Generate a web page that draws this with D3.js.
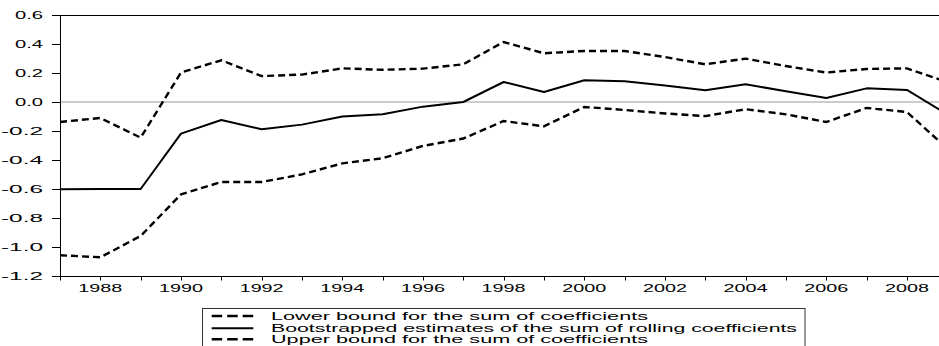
<!DOCTYPE html>
<html><head><meta charset="utf-8">
<script src="https://cdn.jsdelivr.net/npm/d3@7"></script>
<style>body{margin:0;background:#fff}svg{display:block}text{font-family:"Liberation Sans",Arial,sans-serif;fill:#000}</style>
</head><body><svg id="c" width="939" height="346"></svg>
<script>
const years = d3.range(1987, 2010);
const estimate = [-0.602,-0.600,-0.600,-0.218,-0.124,-0.188,-0.156,-0.100,-0.085,-0.032,0.000,0.138,0.069,0.150,0.143,0.113,0.081,0.122,0.074,0.028,0.094,0.083,-0.085];
const upper = [-0.138,-0.110,-0.246,0.203,0.288,0.179,0.189,0.232,0.222,0.230,0.260,0.414,0.336,0.352,0.352,0.310,0.260,0.299,0.248,0.203,0.228,0.232,0.137];
const lower = [-1.057,-1.071,-0.924,-0.637,-0.552,-0.552,-0.499,-0.423,-0.388,-0.303,-0.252,-0.131,-0.168,-0.034,-0.055,-0.079,-0.097,-0.050,-0.085,-0.138,-0.041,-0.069,-0.321];
const yTicks = [0.6,0.4,0.2,0.0,-0.2,-0.4,-0.6,-0.8,-1.0,-1.2];
const xLabels = [1988,1990,1992,1994,1996,1998,2000,2002,2004,2006,2008];
const legendLabels = ["Lower bound for the sum of coefficients","Bootstrapped estimates of the sum of rolling coefficients","Upper bound for the sum of coefficients"];

const svg = d3.select("#c");
const L = 60, R = 939, T = 15, B = 276;
const x = d3.scaleLinear().domain([1987, 2009]).range([L, L + 22*40.33]);
const y = d3.scaleLinear().domain([-1.2, 0.6]).range([B, T]);

svg.append("defs").append("clipPath").attr("id","pc").append("rect")
  .attr("x", L).attr("y", 0).attr("width", R - L).attr("height", 346);

// zero line
svg.append("line").attr("x1", L).attr("x2", R).attr("y1", y(0)).attr("y2", y(0))
  .attr("stroke", "#999").attr("stroke-width", 1);

// frame lines
svg.append("line").attr("x1", L).attr("x2", R).attr("y1", T+0.5).attr("y2", T+0.5).attr("stroke","#000").attr("stroke-width",1);
svg.append("line").attr("x1", L).attr("x2", R).attr("y1", B+0.5).attr("y2", B+0.5).attr("stroke","#000").attr("stroke-width",1);
svg.append("line").attr("x1", L+0.5).attr("x2", L+0.5).attr("y1", T).attr("y2", B+1).attr("stroke","#000").attr("stroke-width",1);

// y ticks & labels
yTicks.forEach(v => {
  const yy = Math.round(y(v)) + 0.5;
  svg.append("line").attr("x1", 52).attr("x2", L).attr("y1", yy).attr("y2", yy).attr("stroke","#000");
  svg.append("text").attr("x", 43).attr("y", y(v) + 4).attr("text-anchor","end")
    .attr("font-size", 11.5)
    .attr("textLength", v < 0 ? 42 : 28).attr("lengthAdjust","spacingAndGlyphs")
    .text(v.toFixed(1));
});

// x ticks & labels
years.forEach(yr => {
  const xx = Math.round(x(yr)) + 0.5;
  if (xx > R) return;
  svg.append("line").attr("x1", xx).attr("x2", xx).attr("y1", B).attr("y2", B + 4.5).attr("stroke","#000");
});
xLabels.forEach(yr => {
  svg.append("text").attr("x", x(yr)).attr("y", 292).attr("text-anchor","middle")
    .attr("font-size", 11.5).attr("textLength", 44).attr("lengthAdjust","spacingAndGlyphs")
    .text(yr);
});

const line = d3.line().x((d,i) => x(years[i])).y(d => y(d));
const g = svg.append("g").attr("clip-path","url(#pc)");
g.append("path").datum(lower).attr("d", line).attr("fill","none").attr("stroke","#000")
  .attr("stroke-width", 2.4).attr("stroke-dasharray","7,4");
g.append("path").datum(upper).attr("d", line).attr("fill","none").attr("stroke","#000")
  .attr("stroke-width", 2.4).attr("stroke-dasharray","7,4");
g.append("path").datum(estimate).attr("d", line).attr("fill","none").attr("stroke","#000")
  .attr("stroke-width", 2).attr("stroke-linejoin","round");

// legend
svg.append("rect").attr("x", 202.5).attr("y", 308.5).attr("width", 602.5).attr("height", 60)
  .attr("fill","none").attr("stroke","#333").attr("stroke-width",1);
const rowsY = [316, 328.3, 339.3];
const textLens = [377, 526, 377];
legendLabels.forEach((t, i) => {
  const ly = rowsY[i];
  svg.append("line").attr("x1", 211.7).attr("x2", 253.3).attr("y1", ly).attr("y2", ly)
    .attr("stroke","#000").attr("stroke-width", i === 1 ? 2 : 2.4)
    .attr("stroke-dasharray", i === 1 ? null : "10.5,5");
  svg.append("text").attr("x", 271).attr("y", ly + 4).attr("font-size", 10.5)
    .attr("textLength", textLens[i]).attr("lengthAdjust","spacingAndGlyphs").text(t);
});
</script></body></html>
